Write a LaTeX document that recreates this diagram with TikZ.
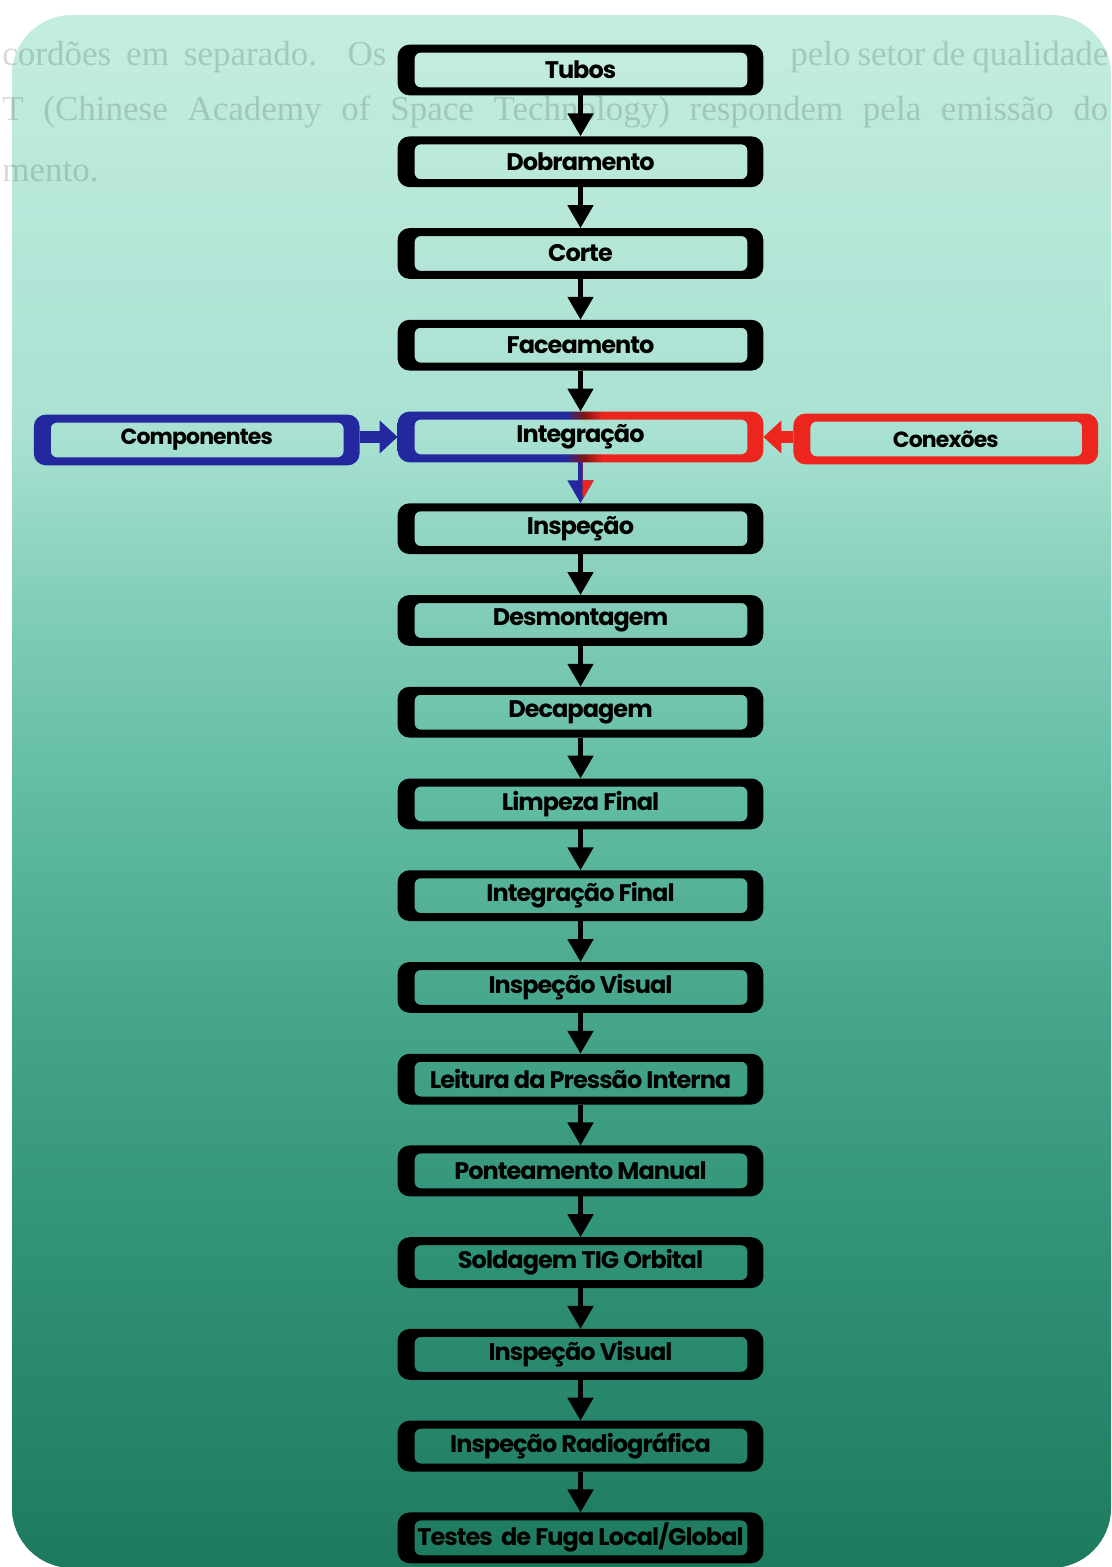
\documentclass[tikz,border=0pt]{standalone}
\usepackage{fontspec}
\usetikzlibrary{positioning,arrows.meta}

\newfontfamily\boxfont{Poppins}[LetterSpace=-4.0]
\newfontfamily\pagefont{Liberation Serif}

\definecolor{compblue}{RGB}{36,40,158}
\definecolor{conxred}{RGB}{236,38,30}
\definecolor{sheettop}{RGB}{196,237,224}
\definecolor{sheetA}{RGB}{168,225,210}
\definecolor{sheetB}{RGB}{130,205,185}
\definecolor{sheetC}{RGB}{98,188,164}
\definecolor{sheetD}{RGB}{70,166,140}
\definecolor{sheetE}{RGB}{47,145,118}
\definecolor{sheetbot}{RGB}{30,122,95}

% page colour, light at the top, dark teal at the bottom
\pgfdeclareverticalshading{sheet}{100bp}{color(0bp)=(sheetbot); color(25bp)=(sheetbot);
  color(35bp)=(sheetE); color(43bp)=(sheetD); color(50bp)=(sheetC); color(56bp)=(sheetB);
  color(61.5bp)=(sheetA); color(75bp)=(sheettop); color(100bp)=(sheettop)}
% frame of the joining step, blue half and red half
\pgfdeclarehorizontalshading{bluered}{100bp}{color(0bp)=(compblue); color(48bp)=(compblue);
  color(50.5bp)=(conxred!55!black); color(53bp)=(conxred); color(100bp)=(conxred)}

\tikzset{
  stepbox/.style={minimum width=182.5pt, minimum height=25pt, inner sep=0pt,
    font=\boxfont\bfseries\fontsize{12pt}{14pt}\selectfont},
  sidebox/.style={stepbox, font=\boxfont\bfseries\fontsize{11pt}{13pt}\selectfont},
  frame/.style={even odd rule, rounded corners=6pt},
  flow/.style={line width=2.5pt, -{Triangle[width=12.5pt,length=11.5pt]}},
  sideflow/.style={line width=6pt, -{Triangle[width=16pt,length=9pt]}},
  ghost/.style={font=\pagefont\fontsize{17.5pt}{20pt}\selectfont, text=black,
    text opacity=0.15, inner sep=0pt, anchor=west}
}

\begin{document}
\begin{tikzpicture}[x=0.5pt, y=-0.5pt, node distance=20.47pt]
  \useasboundingbox (0,0) rectangle (1112,1567);
  \shade[shading=sheet, rounded corners=30pt] (12,15) rectangle (1111,1568);

  % text of the page showing through
  \node[ghost] (pg1l) at (2,57) {\makebox[192pt][s]{cordões em separado. Os}};
  \node[ghost] (pg1r) at (790,57) {\makebox[159pt][s]{pelo setor de qualidade}};
  \node[ghost] (pg2) at (2,112) {\makebox[553pt][s]{T (Chinese Academy of Space Technology) respondem pela emissão do}};
  \node[ghost] (pg3) at (2,172) {mento.};

  % steps
  \node[stepbox] (tubos) at (580.5,70) {Tubos};
  \node[stepbox, below=of tubos] (dobra) {Dobramento};
  \node[stepbox, below=of dobra] (corte) {Corte};
  \node[stepbox, below=of corte] (face) {Faceamento};
  \node[stepbox, below=of face] (integ) {Integração};
  \node[stepbox, below=of integ] (insp) {Inspeção};
  \node[stepbox, below=of insp] (desm) {Desmontagem};
  \node[stepbox, below=of desm] (decap) {Decapagem};
  \node[stepbox, below=of decap] (limp) {Limpeza Final};
  \node[stepbox, below=of limp] (intfin) {Integração Final};
  \node[stepbox, below=of intfin] (vis) {Inspeção Visual};
  \node[stepbox, below=of vis] (leit) {Leitura da Pressão Interna};
  \node[stepbox, below=of leit] (pont) {Ponteamento Manual};
  \node[stepbox, below=of pont] (sold) {Soldagem TIG Orbital};
  \node[stepbox, below=of sold] (vis2) {Inspeção Visual};
  \node[stepbox, below=of vis2] (radio) {Inspeção Radiográfica};
  \node[stepbox, below=of radio] (fuga) {Testes~~de Fuga Local/Global};

  \node[sidebox, minimum width=162.5pt, left=19pt of integ, yshift=-1.5pt] (comp) {Componentes};
  \node[sidebox, minimum width=152pt, right=15pt of integ, yshift=-1pt] (conx) {Conexões};

  % frames: thin on top and bottom, thick at the sides
  \foreach \n in {tubos,dobra,corte,face,insp,desm,decap,limp,intfin,vis,leit,pont,sold,vis2,radio,fuga}
    \fill[frame] (\n.north west) rectangle (\n.south east)
      [rounded corners=3pt] ([shift={(8.5pt,-4pt)}]\n.north west) rectangle ([shift={(-8pt,4pt)}]\n.south east);
  \fill[frame, compblue] (comp.north west) rectangle (comp.south east)
    [rounded corners=3pt] ([shift={(8.5pt,-4pt)}]comp.north west) rectangle ([shift={(-8pt,4pt)}]comp.south east);
  \fill[frame, conxred] (conx.north west) rectangle (conx.south east)
    [rounded corners=3pt] ([shift={(8.5pt,-4pt)}]conx.north west) rectangle ([shift={(-8pt,4pt)}]conx.south east);
  \shade[frame, shading=bluered] (integ.north west) rectangle (integ.south east)
    [rounded corners=3pt] ([shift={(8.5pt,-4pt)}]integ.north west) rectangle ([shift={(-8pt,4pt)}]integ.south east);

  % arrows
  \foreach \a/\b in {tubos/dobra,dobra/corte,corte/face,face/integ,insp/desm,desm/decap,decap/limp,
      limp/intfin,intfin/vis,vis/leit,leit/pont,pont/sold,sold/vis2,vis2/radio,radio/fuga}
    \draw[flow] (\a) -- (\b);
  \draw[flow, compblue] (integ) -- (insp);
  \begin{scope}
    \clip (582.5,455) rectangle (620,510);
    \draw[flow, conxred] (integ) -- (insp);
  \end{scope}
  \draw[sideflow, compblue] (comp.east |- integ.west) -- (integ.west);
  \draw[sideflow, conxred] (conx.west |- integ.east) -- (integ.east);
\end{tikzpicture}
\end{document}
